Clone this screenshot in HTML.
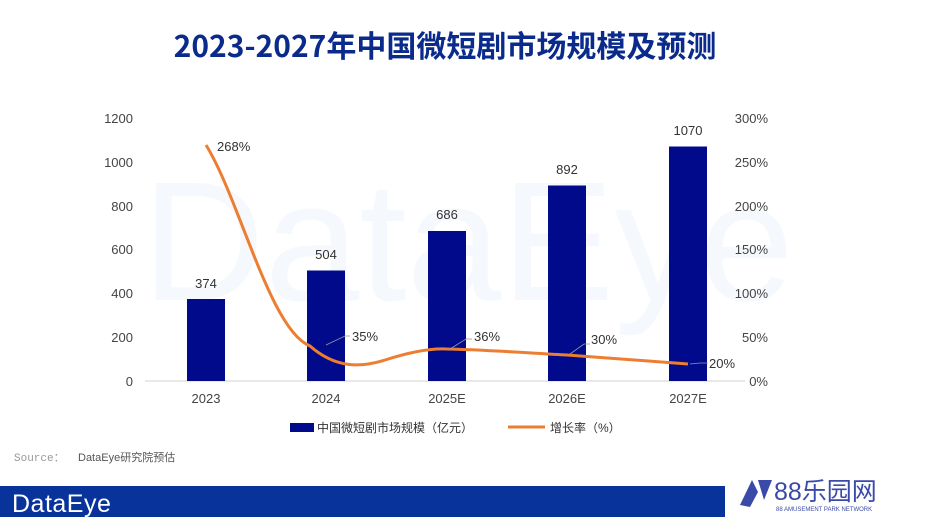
<!DOCTYPE html>
<html><head><meta charset="utf-8"><style>
body{margin:0;width:925px;height:517px;overflow:hidden;background:#fff;font-family:"Liberation Sans","Noto Sans CJK SC",sans-serif;}
</style></head><body>
<svg width="925" height="517" xmlns="http://www.w3.org/2000/svg" font-family="Liberation Sans, Noto Sans CJK SC, sans-serif">
<text x="445" y="57" text-anchor="middle" font-size="30" font-weight="bold" fill="#0a2a8c" font-family="Noto Sans CJK SC, sans-serif">2023-2027年中国微短剧市场规模及预测</text>
<text x="468" y="300" text-anchor="middle" font-size="170" fill="#f5f8fd">DataEye</text>
<g font-size="13" fill="#444" text-anchor="end">
<text x="133" y="123">1200</text><text x="133" y="167">1000</text><text x="133" y="211">800</text><text x="133" y="254">600</text><text x="133" y="298">400</text><text x="133" y="342">200</text><text x="133" y="386">0</text>
</g>
<g font-size="13" fill="#444" text-anchor="end">
<text x="768" y="123">300%</text><text x="768" y="167">250%</text><text x="768" y="211">200%</text><text x="768" y="254">150%</text><text x="768" y="298">100%</text><text x="768" y="342">50%</text><text x="768" y="386">0%</text>
</g>
<line x1="145" y1="381" x2="745" y2="381" stroke="#d0d0d0"/>
<g fill="#000a8a">
<rect x="187" y="299" width="38" height="82"/>
<rect x="307" y="270.5" width="38" height="110.5"/>
<rect x="428" y="231" width="38" height="150"/>
<rect x="548" y="185.5" width="38" height="195.5"/>
<rect x="669" y="146.5" width="38" height="234.5"/>
</g>
<g font-size="13" fill="#333" text-anchor="middle">
<text x="206" y="288">374</text><text x="326" y="259">504</text><text x="447" y="219">686</text><text x="567" y="174">892</text><text x="688" y="135">1070</text>
</g>
<path d="M206,145 C240,200 270,330 310,346 C335,368 360,368 385,360 C410,352 430,348 447,349 C490,350 530,353 567,355 C610,358 650,361 688,364" fill="none" stroke="#ed7d31" stroke-width="3"/>
<g stroke="#999" stroke-width="0.8" fill="none">
<polyline points="326,345 345,336 350,336"/><polyline points="450,349 466,339 472,339"/><polyline points="570,354 584,344 590,344"/><polyline points="690,364 700,363 708,363"/>
</g>
<g font-size="13" fill="#333">
<text x="217" y="151">268%</text><text x="352" y="341">35%</text><text x="474" y="341">36%</text><text x="591" y="344">30%</text><text x="709" y="368">20%</text>
</g>
<g font-size="13" fill="#444" text-anchor="middle">
<text x="206" y="403">2023</text><text x="326" y="403">2024</text><text x="447" y="403">2025E</text><text x="567" y="403">2026E</text><text x="688" y="403">2027E</text>
</g>
<rect x="290" y="423" width="24" height="9" fill="#000a8a"/>
<text x="317" y="432" font-size="12" fill="#333">中国微短剧市场规模（亿元）</text>
<line x1="508" y1="427" x2="545" y2="427" stroke="#ed7d31" stroke-width="3"/>
<text x="550" y="432" font-size="12" fill="#333">增长率（%）</text>
<text x="14" y="461" font-size="11" fill="#999" font-family="Liberation Mono, monospace">Source：</text>
<text x="78" y="461" font-size="11" fill="#555">DataEye研究院预估</text>
<rect x="0" y="486" width="725" height="31" fill="#07339b"/>
<text x="12" y="512" font-size="25" fill="#fff" letter-spacing="0.5">DataEye</text>
<polygon points="740,505 752,480 758,492 750,507" fill="#3a4aa8"/>
<polygon points="758,480 772,480 764,500" fill="#3a4aa8"/>
<text x="774" y="500" font-size="25" fill="#3a4aa8">88乐园网</text>
<text x="776" y="511" font-size="6" fill="#3a4aa8">88 AMUSEMENT PARK NETWORK</text>
</svg>
</body></html>
